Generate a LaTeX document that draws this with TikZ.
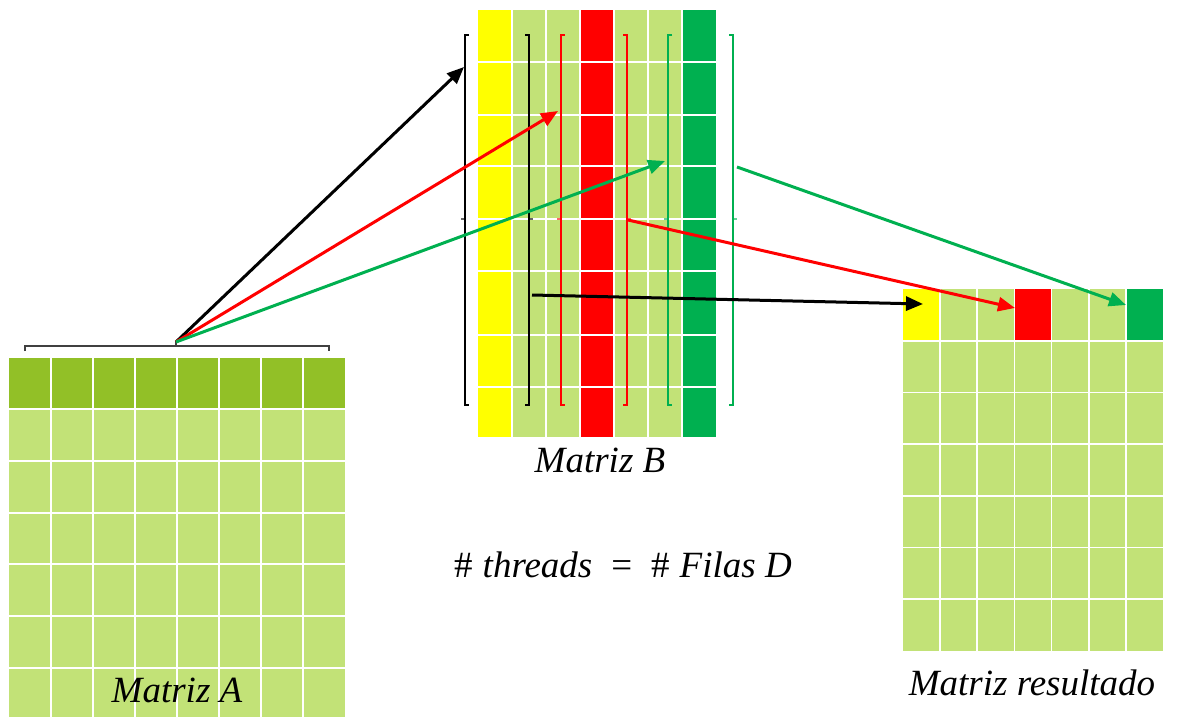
\documentclass[tikz,border=0pt]{standalone}
\usepackage{fontspec}
\setmainfont{Liberation Serif}
\usetikzlibrary{arrows.meta}
\definecolor{cellgreen}{HTML}{C2E277}
\definecolor{headgreen}{HTML}{92C027}
\definecolor{hiyellow}{HTML}{FFFF00}
\definecolor{hired}{HTML}{FF0000}
\definecolor{hidark}{HTML}{00B050}
\definecolor{bracegray}{HTML}{404040}
\tikzset{
  gridline/.style={white, line width=1.8pt},
  link/.style={line width=3pt, -{Triangle[length=17pt,width=14pt]}},
  bracketline/.style={line width=1.4pt},
  caption/.style={anchor=base, inner sep=0pt, font=\fontsize{37}{40}\selectfont\itshape},
}
\begin{document}
\begin{tikzpicture}[x=1pt, y=-1pt]
\useasboundingbox (0,0) rectangle (1186,717);

% ---------- Matrix A (8 columns, first row highlighted) ----------
\begin{scope}
  \clip (0,0) rectangle (1186,717);
  \fill[cellgreen] (9,358) rectangle (345,722);
  \fill[headgreen] (9,358) rectangle (345,409);
  \foreach \i in {1,...,7} \draw[gridline] ({9+42*\i},358) -- ({9+42*\i},722);
  \foreach \y in {409,461,513,564,616,668} \draw[gridline] (9,\y) -- (345,\y);
\end{scope}

% brace over the first row of A
\draw[bracegray, line width=1.4pt] (25,351) -- (25,346) -- (329,346) -- (329,351);
\draw[bracegray, line width=1.4pt] (176,346) -- (176,341);
\coordinate (rowA) at (176,342);

% ---------- Matrix B (7 columns) ----------
\foreach \i/\c in {0/hiyellow,1/cellgreen,2/cellgreen,3/hired,4/cellgreen,5/cellgreen,6/hidark}
  \fill[\c] ({478+34*\i},10) rectangle ({478+34*(\i+1)},437);
\foreach \i in {1,...,6} \draw[gridline] ({478+34*\i},10) -- ({478+34*\i},437);
\foreach \y in {62,115,166,219,271,335,387} \draw[gridline] (478,\y) -- (716,\y);

% column brackets of B
\foreach \l/\r/\c in {465/529/black, 561/627/hired, 668/733/hidark}{
  \draw[bracketline, \c] (\l+4,35) -- (\l,35) -- (\l,405) -- (\l+4,405);
  \draw[bracketline, \c] (\r-4,35) -- (\r,35) -- (\r,405) -- (\r-4,405);
  \draw[bracketline, \c, opacity=0.6] (\l,219) -- (\l-4,219);
  \draw[bracketline, \c, opacity=0.6] (\r,219) -- (\r+4,219);
}
\coordinate (colB1) at (464,67);
\coordinate (colB4) at (558,111);
\coordinate (colB7) at (665,161);
\coordinate (outB1) at (532,295);
\coordinate (outB4) at (628,220);
\coordinate (outB7) at (737,167);

% ---------- Result matrix (7 x 7) ----------
\fill[cellgreen] (903,289) rectangle (1163,651);
\fill[hiyellow] (903,289) rectangle (940.1,340.7);
\fill[hired] (1014.4,289) rectangle (1051.6,340.7);
\fill[hidark] (1125.9,289) rectangle (1163,340.7);
\foreach \i in {1,...,6} \draw[gridline] ({903+37.14*\i},289) -- ({903+37.14*\i},651);
\foreach \j in {1,...,6} \draw[gridline] (903,{289+51.7*\j}) -- (1163,{289+51.7*\j});
\coordinate (res1) at (923,304);
\coordinate (res4) at (1015,308);
\coordinate (res7) at (1126,305);

% ---------- Connectors ----------
\draw[link, black] (rowA) -- (colB1);
\draw[link, hired] (rowA) -- (colB4);
\draw[link, hidark] (rowA) -- (colB7);
\draw[link, black] (outB1) -- (res1);
\draw[link, hired] (outB4) -- (res4);
\draw[link, hidark] (outB7) -- (res7);

% ---------- Labels ----------
\node[caption] (labA) at (177,702) {Matriz A};
\node[caption] (labB) at (600,472) {Matriz B};
\node[caption] (labR) at (1032,695) {Matriz resultado};
\node[caption] (labT) at (623,577) {{\upshape\#}\hspace{10pt}threads\hspace{19pt}{\upshape =}\hspace{19pt}{\upshape\#}\hspace{10pt}Filas D};
\end{tikzpicture}
\end{document}
